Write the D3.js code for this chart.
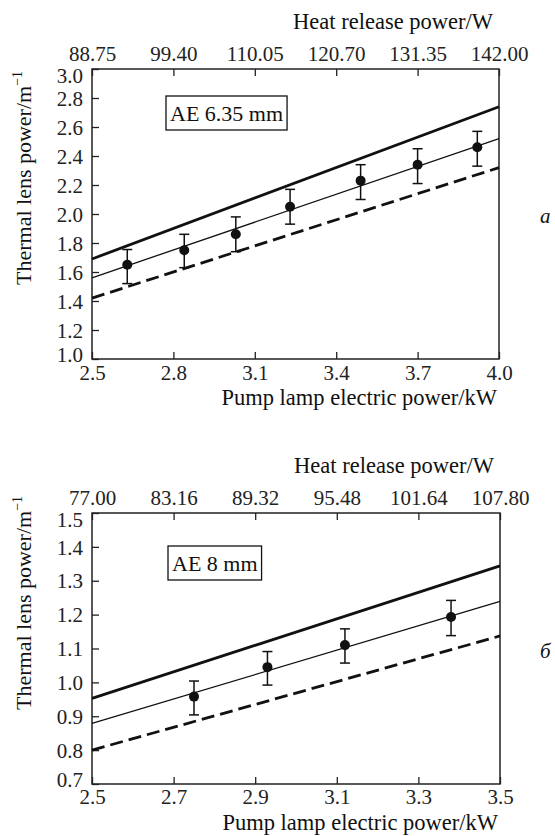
<!DOCTYPE html>
<html>
<head>
<meta charset="utf-8">
<script src="https://cdn.jsdelivr.net/npm/d3@7"></script>
<style>
  body { margin: 0; background: #fff; }
  svg text { font-family: "Liberation Serif", "Times New Roman", "DejaVu Serif", serif; }
</style>
</head>
<body>
<div id="chart"></div>
<script>
const width = 555;
const height = 836;
const serif = "'Liberation Serif', 'Times New Roman', 'DejaVu Serif', serif";

// ---- panel a: AE 6.35 mm ----
const pumpTicksA = [2.5, 2.8, 3.1, 3.4, 3.7, 4.0];
const heatTicksA = [88.75, 99.40, 110.05, 120.70, 131.35, 142.00];
const lensTicksA = [1.0, 1.2, 1.4, 1.6, 1.8, 2.0, 2.2, 2.4, 2.6, 2.8, 3.0];
const pumpA = [2.63, 2.84, 3.03, 3.23, 3.49, 3.70, 3.92];
const lensA = [1.65, 1.75, 1.86, 2.05, 2.23, 2.34, 2.46];
const lensLoA = [1.52, 1.63, 1.74, 1.93, 2.10, 2.21, 2.33];
const lensHiA = [1.755, 1.86, 1.98, 2.17, 2.34, 2.45, 2.57];
const upperA = [[2.5, 1.69], [4.0, 2.74]];
const fitA = [[2.5, 1.56], [4.0, 2.52]];
const lowerA = [[2.5, 1.42], [4.0, 2.32]];

// ---- panel б: AE 8 mm ----
const pumpTicksB = [2.5, 2.7, 2.9, 3.1, 3.3, 3.5];
const heatTicksB = [77.00, 83.16, 89.32, 95.48, 101.64, 107.80];
const lensTicksB = [0.7, 0.8, 0.9, 1.0, 1.1, 1.2, 1.3, 1.4, 1.5];
const pumpB = [2.75, 2.93, 3.12, 3.38];
const lensB = [0.958, 1.045, 1.11, 1.193];
const lensLoB = [0.904, 0.992, 1.057, 1.138];
const lensHiB = [1.004, 1.091, 1.158, 1.242];
const upperB = [[2.5, 0.953], [3.5, 1.344]];
const fitB = [[2.5, 0.879], [3.5, 1.239]];
const lowerB = [[2.5, 0.80], [3.5, 1.137]];

const svg = d3.select("#chart").append("svg")
  .attr("width", width)
  .attr("height", height)
  .style("display", "block");

function drawPanel(p) {
  const g = svg.append("g");

  const x = d3.scaleLinear().domain(d3.extent(p.pumpTicks)).range([p.left, p.right]);
  const xTop = d3.scaleLinear().domain(d3.extent(p.heatTicks)).range([p.left, p.right]);
  const y = d3.scaleLinear().domain(d3.extent(p.lensTicks)).range([p.bottom, p.top]);

  // frame
  g.append("rect")
    .attr("x", p.left).attr("y", p.top)
    .attr("width", p.right - p.left).attr("height", p.bottom - p.top)
    .attr("fill", "none").attr("stroke", "#222").attr("stroke-width", 1.5);

  // bottom axis, ticks pointing inward
  const xAxis = g.append("g")
    .attr("transform", `translate(0,${p.bottom})`)
    .call(d3.axisBottom(x).tickValues(p.pumpTicks).tickFormat(d3.format(".1f"))
      .tickSizeInner(-7).tickSizeOuter(0));
  xAxis.select(".domain").remove();
  xAxis.selectAll("text").attr("dy", 0).attr("y", p.xLabelDy);

  // top axis
  const topAxis = g.append("g")
    .attr("transform", `translate(0,${p.top})`)
    .call(d3.axisTop(xTop).tickValues(p.heatTicks).tickFormat(d3.format(".2f"))
      .tickSizeInner(-7).tickSizeOuter(0));
  topAxis.select(".domain").remove();
  topAxis.selectAll("text").attr("dy", 0).attr("y", -8);

  // left axis; end labels nudged inward as in the original
  const yAxis = g.append("g")
    .attr("transform", `translate(${p.left},0)`)
    .call(d3.axisLeft(y).tickValues(p.lensTicks).tickFormat(d3.format(".1f"))
      .tickSizeInner(-7).tickSizeOuter(0));
  yAxis.select(".domain").remove();
  yAxis.selectAll("text")
    .attr("x", -9)
    .attr("dy", (d, i, n) => i === 0 ? "0.12em" : (i === n.length - 1 ? "0.62em" : "0.34em"));

  [xAxis, topAxis, yAxis].forEach(a => {
    a.attr("font-family", serif).attr("font-size", 21);
    a.selectAll("line").attr("stroke", "#222").attr("stroke-width", 1.3);
    a.selectAll("text").attr("fill", "#222");
  });

  // model lines
  const line = d3.line().x(d => x(d[0])).y(d => y(d[1]));
  g.append("path").datum(p.upper).attr("d", line)
    .attr("fill", "none").attr("stroke", "#111").attr("stroke-width", 2.8);
  g.append("path").datum(p.fit).attr("d", line)
    .attr("fill", "none").attr("stroke", "#111").attr("stroke-width", 1.3);
  g.append("path").datum(p.lower).attr("d", line)
    .attr("fill", "none").attr("stroke", "#111").attr("stroke-width", 2.8)
    .attr("stroke-dasharray", "13,6");

  // error bars + points
  const pts = p.pump.map((v, i) => ({ x: v, y: p.lens[i], lo: p.lo[i], hi: p.hi[i] }));
  const eb = g.selectAll("g.err").data(pts).join("g").attr("class", "err")
    .attr("stroke", "#111").attr("stroke-width", 1.5);
  eb.append("line")
    .attr("x1", d => x(d.x)).attr("x2", d => x(d.x))
    .attr("y1", d => y(d.lo)).attr("y2", d => y(d.hi));
  eb.append("line")
    .attr("x1", d => x(d.x) - 5).attr("x2", d => x(d.x) + 5)
    .attr("y1", d => y(d.hi)).attr("y2", d => y(d.hi));
  eb.append("line")
    .attr("x1", d => x(d.x) - 5).attr("x2", d => x(d.x) + 5)
    .attr("y1", d => y(d.lo)).attr("y2", d => y(d.lo));
  g.selectAll("circle.pt").data(pts).join("circle").attr("class", "pt")
    .attr("cx", d => x(d.x)).attr("cy", d => y(d.y)).attr("r", 5)
    .attr("fill", "#111");

  // label box
  const box = g.append("rect");
  const lbl = g.append("text")
    .attr("x", p.left + p.boxDx + 5).attr("y", p.top + p.boxDy + 25)
    .attr("fill", "#111").attr("font-family", serif).attr("font-size", 22)
    .text(p.label);
  const bb = lbl.node().getBBox();
  box.attr("x", bb.x - 4).attr("y", p.top + p.boxDy)
    .attr("width", bb.width + 8).attr("height", 34)
    .attr("fill", "#fff").attr("stroke", "#111").attr("stroke-width", 1.3);

  // axis titles
  g.append("text")
    .attr("x", p.right - 6).attr("y", p.top - 40)
    .attr("text-anchor", "end").attr("fill", "#111")
    .attr("font-family", serif).attr("font-size", 22.5)
    .text("Heat release power/W");
  g.append("text")
    .attr("x", p.right - 2).attr("y", p.bottom + p.xTitleDy)
    .attr("text-anchor", "end").attr("fill", "#111")
    .attr("font-family", serif).attr("font-size", 22.5)
    .text("Pump lamp electric power/kW");

  const yt = g.append("text")
    .attr("transform", `translate(31,${p.bottom - 74}) rotate(-90)`)
    .attr("fill", "#111").attr("font-family", serif).attr("font-size", 22)
    .text("Thermal lens power/m");
  yt.append("tspan").attr("dy", -9).attr("font-size", 14).text("−1");

  g.append("text")
    .attr("x", 540).attr("y", p.sideY)
    .attr("fill", "#111").attr("font-family", serif).attr("font-size", 21)
    .attr("font-style", "italic")
    .text(p.side);
}

drawPanel({
  pumpTicks: pumpTicksA, heatTicks: heatTicksA, lensTicks: lensTicksA,
  pump: pumpA, lens: lensA, lo: lensLoA, hi: lensHiA,
  upper: upperA, fit: fitA, lower: lowerA,
  left: 92, right: 499, top: 69, bottom: 359,
  xLabelDy: 21, xTitleDy: 46,
  boxDx: 73, boxDy: 27, label: "AE 6.35 mm",
  side: "a", sideY: 223
});

drawPanel({
  pumpTicks: pumpTicksB, heatTicks: heatTicksB, lensTicks: lensTicksB,
  pump: pumpB, lens: lensB, lo: lensLoB, hi: lensHiB,
  upper: upperB, fit: fitB, lower: lowerB,
  left: 92, right: 500, top: 513, bottom: 784,
  xLabelDy: 20, xTitleDy: 46,
  boxDx: 75, boxDy: 33, label: "AE 8 mm",
  side: "б", sideY: 658
});
</script>
</body>
</html>
